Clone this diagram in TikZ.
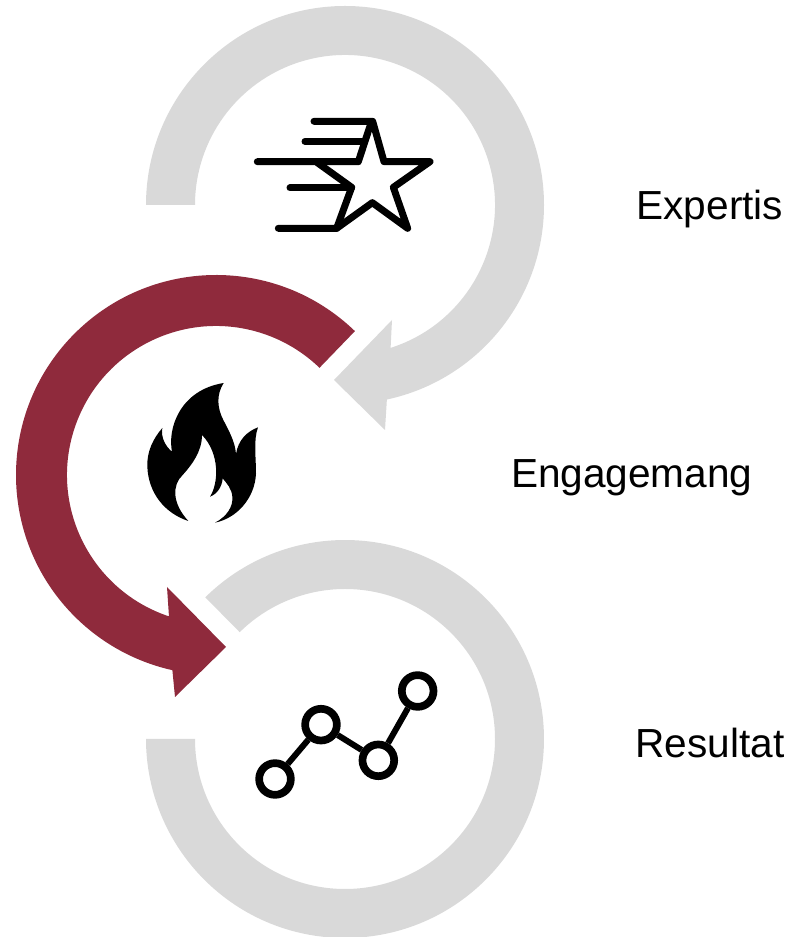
\documentclass[tikz,border=0pt]{standalone}
\usepackage{fontspec}
\setmainfont{Liberation Sans}
\definecolor{ringgray}{HTML}{D9D9D9}
\definecolor{ringred}{HTML}{8F2A3C}
\tikzset{
  label text/.style={anchor=base west,inner sep=0pt,outer sep=0pt,font=\fontsize{40.6}{40.6}\selectfont,text=black},
  icon line/.style={draw=black,line width=7pt,line cap=round,line join=round},
  chart dot/.style={circle,draw=black,line width=7.7pt,minimum size=31.7pt,inner sep=0pt},
  chart link/.style={draw=black,line width=6pt},
  icon zoom/.style={x=0.33333pt,y=-0.33333pt},
}
\begin{document}
\begin{tikzpicture}[x=1pt,y=1pt]
\useasboundingbox (0,0) rectangle (797,937);
% top ring
\begin{scope}[shift={(345,732)}]
\fill[ringgray] (180:199) arc[start angle=180,end angle=-77.85,radius=199]
  -- (40,-225) -- (-11,-175) -- (47,-115) -- (-72.3:150)
  arc[start angle=-72.3,end angle=180,radius=150] -- cycle;
\end{scope}
% bottom ring
\begin{scope}[shift={(345,198)}]
\fill[ringgray] (134.6:199) arc[start angle=134.6,end angle=-180,radius=199]
  -- (180:150) arc[start angle=-180,end angle=134.6,radius=150] -- cycle;
\end{scope}
% red arrow
\begin{scope}[shift={(216,462)}]
\fill[ringred] (46:200) arc[start angle=46,end angle=257.4,radius=200]
  -- (-41,-222) -- (10,-172) -- (-49,-112) -- (251.6:149)
  arc[start angle=251.6,end angle=46,radius=149] -- cycle;
\end{scope}
% star icon
\begin{scope}[shift={(240,837)},icon zoom]
\draw[icon line] (222,64) -- (398,64) -- (432,185) -- (570,185) -- (460,262) -- (503,385)
  -- (397,308) -- (290,385) -- (115,385);
\draw[icon line] (52,185) -- (355,185) -- (394,66);
\draw[icon line] (232,188) -- (335,262) -- (290,385);
\draw[icon line] (195,124) -- (370,124);
\draw[icon line] (150,264) -- (335,264);
\end{scope}
% flame icon
\begin{scope}[shift={(130,567)},icon zoom]
\fill[black] (281,39)
  .. controls (258,75) and (262,115) .. (280,150)
  .. controls (298,185) and (315,215) .. (318,252)
  .. controls (325,210) and (350,185) .. (384,172)
  .. controls (370,210) and (378,260) .. (378,310)
  .. controls (375,385) and (320,445) .. (255,458)
  .. controls (290,440) and (310,410) .. (307,380)
  .. controls (305,355) and (290,340) .. (278,325)
  .. controls (276,350) and (262,372) .. (240,380)
  .. controls (266,340) and (270,250) .. (216,195)
  .. controls (216,245) and (185,285) .. (158,315)
  .. controls (126,345) and (126,400) .. (175,453)
  .. controls (105,430) and (55,370) .. (52,290)
  .. controls (50,245) and (70,205) .. (97,174)
  .. controls (92,200) and (105,228) .. (126,245)
  .. controls (112,175) and (150,60) .. (281,39) -- cycle;
\end{scope}
% chart icon
\begin{scope}[shift={(240,277)},icon zoom]
\node[chart dot] (p1) at (105,357) {};
\node[chart dot] (p2) at (243,194) {};
\node[chart dot] (p3) at (415,301) {};
\node[chart dot] (p4) at (533,93) {};
\draw[chart link] (p1) -- (p2);
\draw[chart link] (p2) -- (p3);
\draw[chart link] (p3) -- (p4);
\end{scope}
% labels
\node[label text] (expertis) at (636.5,717) {Expertis};
\node[label text] (engagemang) at (511,449) {Engagemang};
\node[label text] (resultat) at (635.5,179) {Resultat};
\end{tikzpicture}
\end{document}
